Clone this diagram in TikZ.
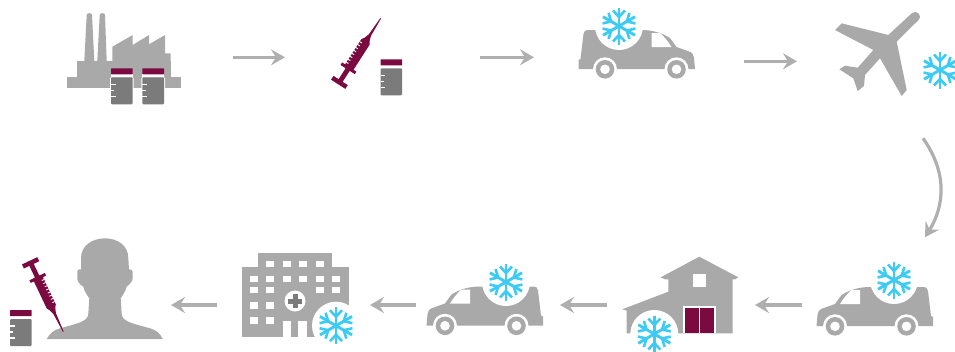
\documentclass[tikz,border=0pt]{standalone}
\usetikzlibrary{arrows.meta}
\definecolor{icongrey}{HTML}{A9A9A9}
\definecolor{arrowgrey}{HTML}{AFAFAF}
\definecolor{vialgrey}{HTML}{7B7B7B}
\definecolor{vialred}{HTML}{7A0A40}
\definecolor{snowblue}{HTML}{3CCBF4}
\tikzset{
  flowarrow/.style={draw=arrowgrey,line width=3.2pt,-{Stealth[length=14pt,width=16pt,inset=5pt]}},
  snowflake/.pic={
    \foreach \a in {30,90,...,330} {
      \draw[snowblue,line width=2.9pt,rotate=\a] (0,0) -- (18.5,0);
      \draw[snowblue,line width=2.6pt,rotate=\a] (15.5,6) -- (9,0) -- (15.5,-6);
    }
  },
  snowspot/.pic={
    \fill[white] (0,0) circle (24);
    \pic {snowflake};
  },
  vialicon/.pic={
    \fill[white] (-10.8,6) rectangle (10.8,9);
    \fill[white,rounded corners=1pt] (-11.8,9) rectangle (11.8,37);
    \fill[vialred,rounded corners=0.5pt] (-10.8,0) rectangle (10.8,6);
    \fill[vialgrey,rounded corners=1pt] (-10.8,9) rectangle (10.8,36);
    \draw[white,line width=1.1pt] (-10.8,16) -- (-6,16);
    \draw[white,line width=1.1pt] (-10.8,22) -- (-7.5,22);
    \draw[white,line width=1.1pt] (-10.8,28) -- (-6,28);
  },
  syringeicon/.pic={
    \fill[vialred] (0,-0.4) -- (0,0.4) -- (20,1.3) -- (25,3) -- (28,5) -- (58,5) -- (58,8.5) -- (61,8.5) -- (61,2.4) -- (74,2.4) -- (74,8.5)
      -- (78.5,8.5) -- (78.5,-8.5) -- (74,-8.5) -- (74,-2.4) -- (61,-2.4) -- (61,-8.5) -- (58,-8.5) -- (58,-5) -- (28,-5) -- (25,-3) -- (20,-1.3) -- cycle;
    \foreach \t in {31,34.5,...,56} {
      \draw[white,line width=0.9pt] (\t,5.1) -- (\t,2.6);
    }
  },
  vanicon/.pic={
    \fill[icongrey] (-58,19) -- (-58,10) -- (-56,9) -- (-53,-16) .. controls (-52.5,-19) and (-51,-20) .. (-49,-20)
      -- (5,-20) .. controls (14,-20) and (24,-18) .. (33.5,-12) -- (40,-3) -- (54,2) .. controls (56,3) and (57,5) .. (57.5,8) -- (58.5,19) -- cycle;
    \fill[white] (15,-17) -- (23.5,-17) .. controls (28,-13) and (32,-8) .. (35,-3) -- (15,-3) -- cycle;
    \foreach \w in {-31.5,40} {
      \fill[white] (\w,19.3) circle (12);
      \fill[icongrey] (\w,19.3) circle (9.3);
      \fill[white] (\w,19.3) circle (4.8);
    }
  }
}
\begin{document}
\begin{tikzpicture}[x=1pt,y=-1pt]
\useasboundingbox (0,0) rectangle (955,351);
\clip (0,0) rectangle (955,351);
% factory
\fill[icongrey] (67.3,76.7) rectangle (180.7,88.3);
\fill[icongrey] (76.7,61) rectangle (170.7,77);
\fill[icongrey] (84.3,61) -- (86.7,15) .. controls (87,12.5) and (91.7,12.5) .. (92,15) -- (94.3,61) -- cycle;
\fill[icongrey] (97.3,61) -- (99.7,15) .. controls (100,12.5) and (104.7,12.5) .. (105,15) -- (106.7,61) -- cycle;
\fill[icongrey] (112.3,61) -- (112.3,46.7) -- (132.7,35) -- (132.7,45) -- (149,35) -- (149,44.3) -- (165,35) -- (165,53.3) -- (170.7,53.3) -- (170.7,61) -- cycle;
\pic at (121.8,68.3) {vialicon};
\pic at (153.2,68.3) {vialicon};
% syringe and vial
\pic[rotate=237.2] at (380.7,18.3) {syringeicon};
\pic at (391.3,59.3) {vialicon};
% vans
\pic at (636.5,50) {vanicon};
\pic at (619,26) {snowspot};
\pic[xscale=-1] at (875,307) {vanicon};
\pic at (894,280) {snowspot};
\pic[xscale=-1] at (485,306.5) {vanicon};
\pic at (506,282) {snowspot};
% plane
\fill[icongrey] (911.5,13.5) .. controls (916,9) and (923,15) .. (918.5,20) -- (896.7,41.7) -- (906.7,90) -- (901.7,96) -- (880,58.3) -- (865,75) -- (864,86)
  -- (857.7,91) -- (853.3,78.3) -- (839.3,69.3) -- (845,65.7) -- (857.7,67.7) -- (873.3,50) -- (835,30) -- (841.7,23.3) -- (888.3,35) -- cycle;
\pic at (940,70) {snowflake};
% barn
\fill[icongrey] (699.3,256.7) -- (738.3,277.3) -- (735,279.3) -- (732.7,279.3) -- (732.7,333.3) -- (626.7,333.3) -- (626.7,310.7) -- (622.3,309.3)
  -- (668.3,291.7) -- (668.3,279.3) -- (665,279.3) -- (660.7,277.3) -- cycle;
\fill[white] (692.7,274.3) rectangle (706,286.7);
\fill[white] (683.3,305.7) rectangle (716,333.3);
\fill[vialred] (685,307.7) rectangle (699,332.7);
\fill[vialred] (700.3,307.7) rectangle (714.3,332.7);
\pic at (654.3,334) {snowspot};
% hospital
\fill[icongrey] (258.3,253.3) rectangle (332.3,267.3);
\fill[icongrey] (241.7,267.3) rectangle (349,337.3);
\foreach \wx in {270,286.7,303,319.7} {
  \fill[white] (\wx-4.2,260.7) rectangle (\wx+4.2,267.4);
}
\foreach \wx in {254,270,286.7,303,319.7,336} {
  \fill[white] (\wx-4.2,275.7) rectangle (\wx+4.2,282.4);
}
\foreach \wx/\wy in {254/290,270/290,319.7/290,336/290,254/305.7,270/305.7,254/320.7,270/320.7} {
  \fill[white] (\wx-4.2,\wy-3.4) rectangle (\wx+4.2,\wy+3.4);
}
\fill[white] (282.7,320.7) rectangle (291,337.4);
\fill[white] (298.3,320.7) rectangle (306.7,337.4);
\fill[white] (295,301) circle (10.5);
\fill[vialgrey] (292.5,294) rectangle (297.5,308);
\fill[vialgrey] (288,298.5) rectangle (302,303.5);
\pic at (336,325.7) {snowspot};
% person
\fill[icongrey] (46.7,339) .. controls (50,333) and (54,330) .. (60,328.3) .. controls (75,324) and (88,322) .. (88.3,314) -- (89.3,298.3)
  .. controls (86,294) and (84,290) .. (83.3,286.7) .. controls (79,284) and (77.3,281) .. (77.3,278.3) -- (77.3,271) .. controls (78,269.5) and (79.5,269) .. (81,269.3) -- (81,258)
  .. controls (81,246) and (92,238.3) .. (105,238.3) .. controls (118,238.3) and (128.3,246) .. (128.3,258) -- (129,269.3) .. controls (131,269) and (132.7,270) .. (132.7,272)
  -- (132.7,278.3) .. controls (132.7,281) and (130,284) .. (126.7,286.7) .. controls (125.5,291) and (123,295) .. (120.7,298.3) -- (121.7,314)
  .. controls (122,322) and (135,324) .. (150,328.3) .. controls (156,330) and (160,333) .. (162.7,339) -- cycle;
\pic[rotate=115.4] at (63.3,331.7) {syringeicon};
\pic at (20.8,310) {vialicon};
% arrows
\coordinate (factory-out) at (232.7,57.3);
\coordinate (syringe-in) at (285,57.3);
\coordinate (syringe-out) at (480,57.3);
\coordinate (van-in) at (534,57.3);
\coordinate (van-out) at (744,61.3);
\coordinate (plane-in) at (797,61.3);
\coordinate (plane-out) at (923,138.3);
\coordinate (vanb-in) at (925,237.3);
\coordinate (vanb-out) at (801.7,305);
\coordinate (barn-in) at (755,305);
\coordinate (barn-out) at (606.7,305);
\coordinate (vanc-in) at (560,305);
\coordinate (vanc-out) at (415.7,305);
\coordinate (hospital-in) at (370,305);
\coordinate (hospital-out) at (217.3,305);
\coordinate (person-in) at (171,305);
\draw[flowarrow] (factory-out) -- (syringe-in);
\draw[flowarrow] (syringe-out) -- (van-in);
\draw[flowarrow] (van-out) -- (plane-in);
\draw[flowarrow] (plane-out) .. controls (947,172) and (945,205) .. (vanb-in);
\draw[flowarrow] (vanb-out) -- (barn-in);
\draw[flowarrow] (barn-out) -- (vanc-in);
\draw[flowarrow] (vanc-out) -- (hospital-in);
\draw[flowarrow] (hospital-out) -- (person-in);
\end{tikzpicture}
\end{document}
